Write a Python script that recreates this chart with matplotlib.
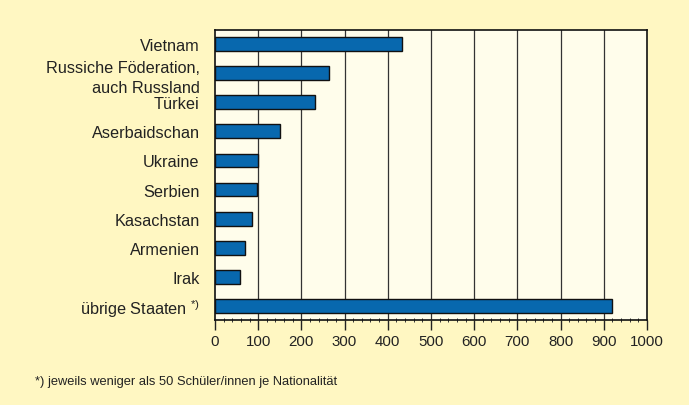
import matplotlib.pyplot as plt
import numpy as np
from matplotlib.ticker import MultipleLocator

plt.rcParams['font.family'] = ['Liberation Sans', 'DejaVu Sans']
plt.rcParams['mathtext.fontset'] = 'custom'
plt.rcParams['mathtext.rm'] = 'Liberation Sans'
plt.rcParams['mathtext.it'] = 'Liberation Sans'

# Schüler/innen nach Staatsangehörigkeit
countries = ['Vietnam', 'Russiche Föderation,\nauch Russland', 'Türkei', 'Aserbaidschan',
             'Ukraine', 'Serbien', 'Kasachstan', 'Armenien', 'Irak',
             'übrige Staaten $^{\\mathrm{*)}}$']
values = [432, 265, 231, 150, 99, 98, 86, 69, 59, 918]
x_ticks = [0, 100, 200, 300, 400, 500, 600, 700, 800, 900, 1000]
footnote = '*) jeweils weniger als 50 Schüler/innen je Nationalität'

fig = plt.figure(figsize=(6.89, 4.06), dpi=100)
fig.patch.set_facecolor('#FFF7C2')
ax = fig.add_axes([0.312, 0.209, 0.627, 0.715])
ax.set_facecolor('#FFFDEB')

y = np.arange(len(countries))
ax.barh(y, values, height=0.48, color='#0868AE', edgecolor='#111111', linewidth=1.0, zorder=3)

ax.set_xlim(0, 1000)
ax.set_ylim(len(countries) - 0.5, -0.5)
ax.set_xticks(x_ticks)
ax.xaxis.set_minor_locator(MultipleLocator(20))
ax.set_yticks(y)
ax.set_yticklabels(countries, fontsize=11.7, color='#222222', ha='right', linespacing=1.4)
ax.tick_params(axis='y', length=0, pad=11)
ax.tick_params(axis='x', which='major', length=7, width=1, color='#222222',
               labelsize=10.8, labelcolor='#222222', pad=3)
ax.tick_params(axis='x', which='minor', length=2.5, width=0.7, direction='inout', color='#333333')

for v in x_ticks[1:-1]:
    ax.axvline(v, color='#333333', linewidth=0.9, zorder=1)

for s in ax.spines.values():
    s.set_color('#111111')
    s.set_linewidth(1.2)

fig.text(0.051, 0.060, footnote, fontsize=9.3, color='#222222', va='center', ha='left')

fig.savefig('out.png', dpi=100, facecolor=fig.get_facecolor())
